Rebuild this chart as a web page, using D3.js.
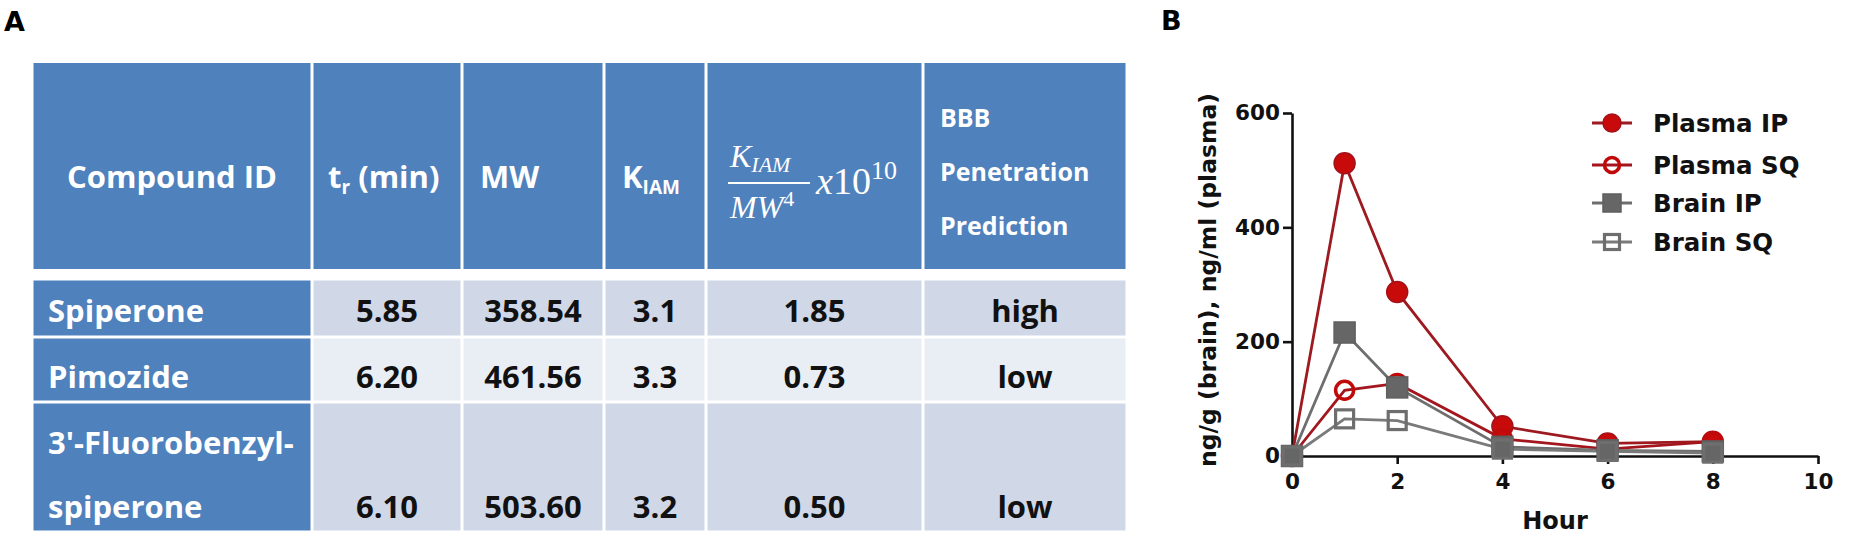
<!DOCTYPE html>
<html><head><meta charset="utf-8">
<script src="https://cdn.jsdelivr.net/npm/d3@7"></script>
<style>body{margin:0;background:#fff}</style>
</head><body>
<svg id="c" width="1850" height="539" xmlns="http://www.w3.org/2000/svg"></svg>
<script>
// ---------- Table data ----------
const compounds = [["Spiperone"], ["Pimozide"], ["3'-Fluorobenzyl-", "spiperone"]];
const trValues = ["5.85", "6.20", "6.10"];
const mwValues = ["358.54", "461.56", "503.60"];
const kiamValues = ["3.1", "3.3", "3.2"];
const ratioValues = ["1.85", "0.73", "0.50"];
const bbbValues = ["high", "low", "low"];
const bbbHeader = ["BBB", "Penetration", "Prediction"];

// ---------- Chart data ----------
const hours = [0, 1, 2, 4, 6, 8];
const plasmaIP = [0, 512, 287, 52, 22, 25];
const plasmaSQ = [0, 115, 127, 30, 12, 25];
const brainIP = [0, 216, 120, 16, 10, 8];
const brainSQ = [0, 65, 62, 12, 8, 5];
const seriesNames = ["Plasma IP", "Plasma SQ", "Brain IP", "Brain SQ"];
const xTicks = [0, 2, 4, 6, 8, 10];
const yTicks = [0, 200, 400, 600];

const svg = d3.select("#c");
const SANS = "'Open Sans', Lato, sans-serif";
const DJ = "'DejaVu Sans', 'Liberation Sans', sans-serif";
const SERIF = "'Liberation Serif', 'DejaVu Serif', serif";

// ---------- Panel letters ----------
svg.append("text").attr("x", 4).attr("y", 31).text("A")
  .attr("font-family", DJ).attr("font-weight", 700).attr("font-size", 27);
svg.append("text").attr("x", 1161).attr("y", 30).text("B")
  .attr("font-family", DJ).attr("font-weight", 700).attr("font-size", 27);

// ---------- Table ----------
const colEdges = [32, 312, 462, 604, 706, 923, 1127];
const headTop = 63, headBottom = 269;
const rowEdges = [279, 337, 402, 532];
const BLUE = "#4F81BD", LIGHT1 = "#D0D8E8", LIGHT2 = "#E9EDF4";
const tbl = svg.append("g");
const colIdx = d3.range(6);
tbl.selectAll("rect.h").data(colIdx).join("rect").attr("class", "h")
  .attr("x", i => colEdges[i] + 1.5).attr("width", i => colEdges[i + 1] - colEdges[i] - 3)
  .attr("y", headTop).attr("height", headBottom - headTop).attr("fill", BLUE);
const rowIdx = d3.range(3);
const cells = rowIdx.flatMap(r => colIdx.map(c => ({ r, c })));
tbl.selectAll("rect.b").data(cells).join("rect").attr("class", "b")
  .attr("x", d => colEdges[d.c] + 1.5).attr("width", d => colEdges[d.c + 1] - colEdges[d.c] - 3)
  .attr("y", d => rowEdges[d.r] + 1.5).attr("height", d => rowEdges[d.r + 1] - rowEdges[d.r] - 3)
  .attr("fill", d => d.c === 0 ? BLUE : (d.r % 2 === 0 ? LIGHT1 : LIGHT2));

const FS = 31;
const capOff = FS * 0.357;
const headMid = 177;
const hdr = tbl.append("g").attr("fill", "#fff").attr("font-family", SANS).attr("font-weight", 700).attr("font-size", FS);
hdr.append("text").attr("x", (colEdges[0] + colEdges[1]) / 2).attr("y", headMid + capOff)
  .attr("text-anchor", "middle").text("Compound ID");
const t1 = hdr.append("text").attr("x", colEdges[1] + 16).attr("y", headMid + capOff);
t1.append("tspan").text("t");
t1.append("tspan").attr("font-size", 19).attr("dy", 6).text("r");
t1.append("tspan").attr("dy", -6).text(" (min)");
hdr.append("text").attr("x", colEdges[2] + 18).attr("y", headMid + capOff).text("MW");
const t3 = hdr.append("text").attr("x", colEdges[3] + 18).attr("y", headMid + capOff);
t3.append("tspan").text("K");
t3.append("tspan").attr("font-size", 19).attr("dy", 6).text("IAM");
// formula K_IAM / MW^4 x10^10
const fg = hdr.append("g").attr("font-family", SERIF).attr("font-style", "italic").attr("font-weight", 400);
const fx = colEdges[4] + 22;
const num = fg.append("text").attr("x", fx + 2).attr("y", 167).attr("font-size", 32);
num.append("tspan").text("K");
num.append("tspan").attr("font-size", 22).attr("dy", 5).text("IAM");
fg.append("line").attr("x1", fx).attr("x2", fx + 82).attr("y1", 183).attr("y2", 183)
  .attr("stroke", "#fff").attr("stroke-width", 2);
const den = fg.append("text").attr("x", fx + 2).attr("y", 218).attr("font-size", 32);
den.append("tspan").text("MW");
den.append("tspan").attr("font-size", 22).attr("dy", -12).attr("font-style", "normal").text("4");
const pw = fg.append("text").attr("x", fx + 88).attr("y", 194).attr("font-size", 38);
pw.append("tspan").text("x");
pw.append("tspan").attr("font-style", "normal").text("10");
pw.append("tspan").attr("font-style", "normal").attr("font-size", 26).attr("dy", -15).text("10");
// BBB header
hdr.selectAll("text.bbb").data(bbbHeader).join("text").attr("class", "bbb")
  .attr("x", colEdges[5] + 17).attr("y", (d, i) => 118 + i * 54 + 9).attr("font-size", 25).text(d => d);

// body texts
const rowMid = [311, 377, 507];
const body = tbl.append("g").attr("font-family", SANS).attr("font-weight", 700).attr("font-size", FS);
compounds.forEach((lines, r) => {
  lines.forEach((ln, k) => {
    const yy = lines.length === 1 ? rowMid[r] : (k === 0 ? 443 : 507);
    body.append("text").attr("x", colEdges[0] + 16).attr("y", yy + capOff).attr("fill", "#fff").text(ln);
  });
});
const colVals = [trValues, mwValues, kiamValues, ratioValues, bbbValues];
colVals.forEach((vals, ci) => {
  const c = ci + 1;
  body.selectAll(null).data(vals).join("text")
    .attr("x", (colEdges[c] + colEdges[c + 1]) / 2).attr("y", (d, r) => rowMid[r] + capOff)
    .attr("text-anchor", "middle").attr("fill", "#111").text(d => d);
});

// ---------- Chart ----------
const x = d3.scaleLinear().domain([0, 10]).range([1292, 1818]);
const y = d3.scaleLinear().domain([0, 600]).range([456, 113]);
const ch = svg.append("g");

const yAx = ch.append("g").attr("transform", `translate(${x(0)},0)`)
  .call(d3.axisLeft(y).tickValues(yTicks).tickSize(9).tickSizeOuter(0).tickPadding(3).tickFormat(d3.format("d")));
const xAx = ch.append("g").attr("transform", `translate(0,${y(0)})`)
  .call(d3.axisBottom(x).tickValues(xTicks).tickSize(8).tickSizeOuter(0).tickPadding(10).tickFormat(d3.format("d")));
[yAx, xAx].forEach(a => {
  a.selectAll("path,line").attr("stroke", "#111").attr("stroke-width", 2.6);
  a.selectAll("text").attr("font-family", DJ).attr("font-weight", 700).attr("font-size", 21.5).attr("fill", "#111");
});

ch.append("text").attr("transform", `translate(1216,280) rotate(-90)`)
  .attr("text-anchor", "middle").attr("font-family", DJ).attr("font-weight", 700).attr("font-size", 23.5)
  .attr("fill", "#111").text("ng/g (brain), ng/ml (plasma)");
ch.append("text").attr("x", (x(0) + x(10)) / 2).attr("y", 528.5)
  .attr("text-anchor", "middle").attr("font-family", DJ).attr("font-weight", 700).attr("font-size", 24)
  .attr("fill", "#111").text("Hour");

const styles = [
  { vals: plasmaIP, line: "#9c1a20", shape: "circle", fill: "#c80a0a", stroke: "#a3121a", sw: 1.5 },
  { vals: plasmaSQ, line: "#a3161d", shape: "circle", fill: "none", stroke: "#c00a0a", sw: 3.5 },
  { vals: brainIP, line: "#6e6e6e", shape: "square", fill: "#666", stroke: "#5f5f5f", sw: 1.5 },
  { vals: brainSQ, line: "#7a7a7a", shape: "square", fill: "none", stroke: "#6e6e6e", sw: 3.2 }
];
const line = d3.line().x(d => x(d.h)).y(d => y(d.v));
const series = styles.map((s, i) => ({ ...s, name: seriesNames[i], pts: hours.map((h, k) => ({ h, v: s.vals[k] })) }));

ch.selectAll("path.ser").data(series).join("path").attr("class", "ser")
  .attr("d", d => line(d.pts)).attr("fill", "none").attr("stroke", d => d.line).attr("stroke-width", 2.8);

function marker(g, s, cx, cy, r) {
  if (s.shape === "circle") {
    g.append("circle").attr("cx", cx).attr("cy", cy).attr("r", s.fill === "none" ? r - 1.5 : r)
      .attr("fill", s.fill).attr("stroke", s.stroke).attr("stroke-width", s.sw);
  } else {
    const a = s.fill === "none" ? r * 2 - 3 : r * 2;
    g.append("rect").attr("x", cx - a / 2).attr("y", cy - a / 2).attr("width", a).attr("height", a)
      .attr("fill", s.fill).attr("stroke", s.stroke).attr("stroke-width", s.sw);
  }
}
series.forEach(s => {
  const g = ch.append("g");
  s.pts.forEach(p => marker(g, s, x(p.h), y(p.v), 10.5));
});

// legend
const legY = [123, 165, 203, 242];
const lg = ch.append("g");
series.forEach((s, i) => {
  lg.append("line").attr("x1", 1592).attr("x2", 1632).attr("y1", legY[i]).attr("y2", legY[i])
    .attr("stroke", s.line).attr("stroke-width", 2.8);
  marker(lg, s, 1612, legY[i], 9);
  lg.append("text").attr("x", 1653).attr("y", legY[i] + 9).attr("font-family", DJ).attr("font-weight", 700)
    .attr("font-size", 24.5).attr("fill", "#111").text(s.name);
});
</script>
</body></html>
